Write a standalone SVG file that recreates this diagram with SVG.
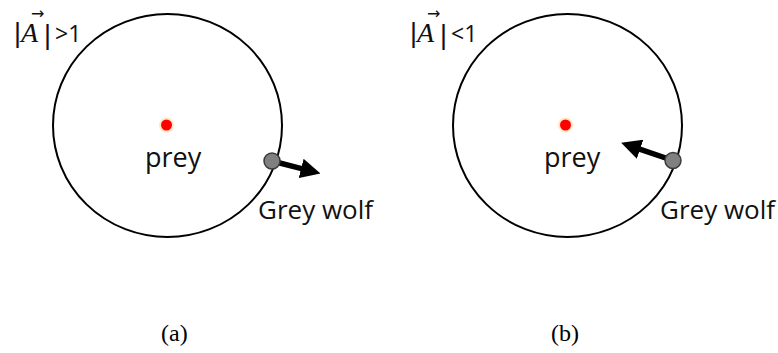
<svg xmlns="http://www.w3.org/2000/svg" width="778" height="353" viewBox="0 0 778 353">
  <style>
    .orbit { fill: none; stroke: #000; stroke-width: 2; }
    .halo { fill: #fde6c4; }
    .prey { fill: #ff0000; }
    .wolf { fill: #808080; stroke: #3a3a3a; stroke-width: 1.5; }
    .move { stroke: #000; stroke-width: 5.5; fill: none; marker-end: url(#head); }
    .lbl { font-family: "Open Sans", "Liberation Sans", sans-serif; fill: #111; }
    .bar { font-family: "Liberation Sans", sans-serif; font-size: 27px; }
    .sym { font-family: "Liberation Serif", serif; font-style: italic; font-size: 28px; }
    .vec { font-family: "DejaVu Sans", sans-serif; font-size: 16px; }
    .rel { font-size: 23px; }
    .cap { font-family: "Liberation Serif", "Times New Roman", serif; font-size: 24px; fill: #000; }
  </style>
  <defs>
    <marker id="head" markerUnits="userSpaceOnUse" viewBox="0 0 20 20" markerWidth="20" markerHeight="20" refX="0.5" refY="10" orient="auto">
      <path d="M0,0 L20,10 L0,20 z" fill="#000"/>
    </marker>
  </defs>

  <!-- panel (a): |A| > 1, wolf moves away from prey -->
  <g id="panel-a">
    <g id="cond-a">
      <text class="lbl" y="42"><tspan class="bar" x="14">|</tspan><tspan class="sym" x="21">A</tspan><tspan class="vec" x="31" y="19">→</tspan><tspan class="bar" x="44" y="44">|</tspan><tspan class="rel" x="55" y="42">&gt;1</tspan></text>
    </g>
    <g id="circle-a"><ellipse class="orbit" cx="167.5" cy="125.5" rx="114.5" ry="111.5"/></g>
    <g id="prey-a">
      <circle class="halo" cx="166.5" cy="125" r="7.5"/>
      <circle class="prey" cx="166.5" cy="125" r="5.5"/>
      <text class="lbl" x="145" y="167" font-size="27">prey</text>
    </g>
    <g id="connectors-a">
      <line class="move" x1="272" y1="161" x2="301.6" y2="168.6"/>
    </g>
    <g id="wolf-a">
      <circle class="wolf" cx="272" cy="161" r="8"/>
      <text class="lbl" x="258" y="219" font-size="26">Grey wolf</text>
    </g>
    <text class="cap" x="161" y="341">(a)</text>
  </g>

  <!-- panel (b): |A| < 1, wolf moves toward prey -->
  <g id="panel-b">
    <g id="cond-b">
      <text class="lbl" y="42"><tspan class="bar" x="410">|</tspan><tspan class="sym" x="417">A</tspan><tspan class="vec" x="427" y="19">→</tspan><tspan class="bar" x="440" y="44">|</tspan><tspan class="rel" x="451" y="42">&lt;1</tspan></text>
    </g>
    <g id="circle-b"><ellipse class="orbit" cx="567.5" cy="125.5" rx="114.5" ry="111.5"/></g>
    <g id="prey-b">
      <circle class="halo" cx="565.5" cy="125" r="7.5"/>
      <circle class="prey" cx="565.5" cy="125" r="5.5"/>
      <text class="lbl" x="544" y="167" font-size="27">prey</text>
    </g>
    <g id="connectors-b">
      <line class="move" x1="673" y1="160.5" x2="639.6" y2="149.1"/>
    </g>
    <g id="wolf-b">
      <circle class="wolf" cx="673" cy="160.5" r="8"/>
      <text class="lbl" x="660" y="219" font-size="26">Grey wolf</text>
    </g>
    <text class="cap" x="551" y="341">(b)</text>
  </g>
</svg>
